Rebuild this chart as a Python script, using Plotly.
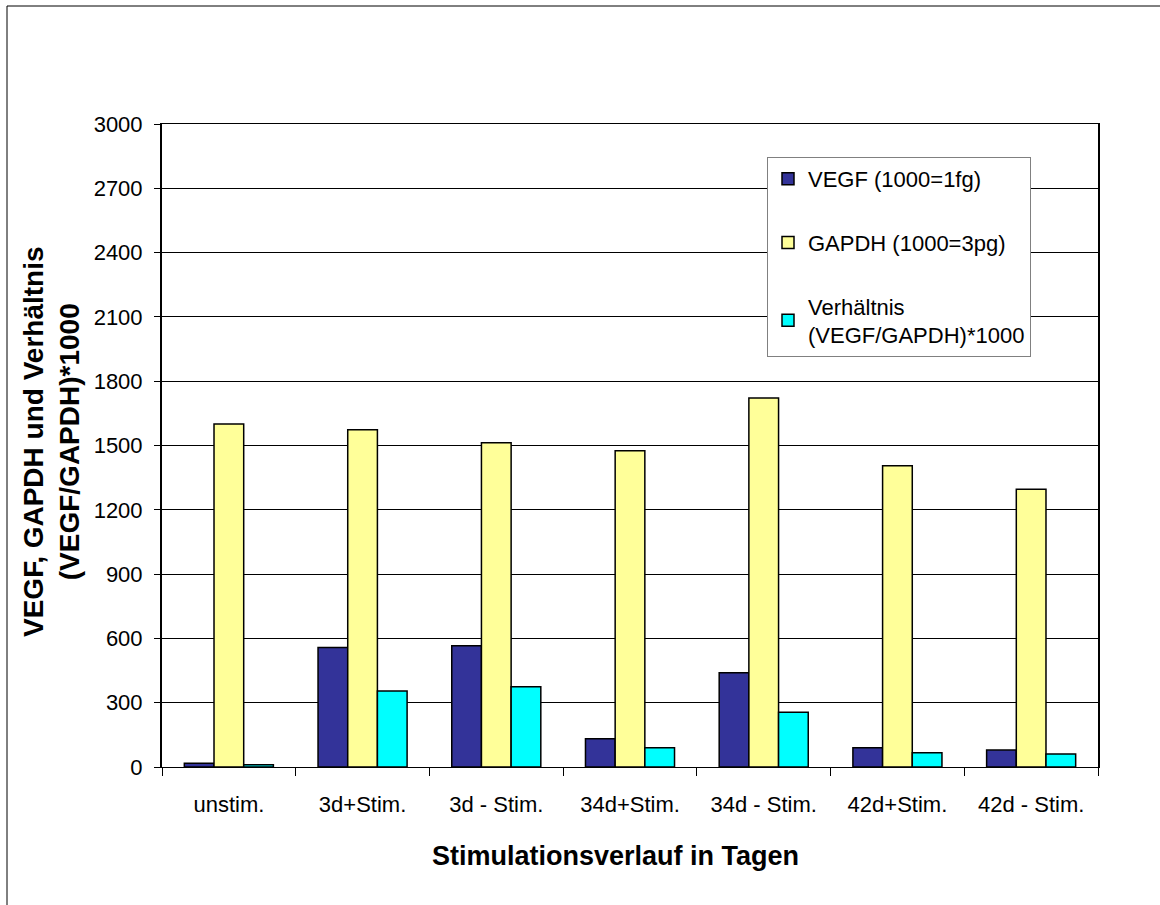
import plotly.graph_objects as go

# Stimulation groups along the x axis
categories = ["unstim.", "3d+Stim.", "3d - Stim.", "34d+Stim.", "34d - Stim.", "42d+Stim.", "42d - Stim."]

# Measured values per group
vegf = [17, 558, 566, 132, 440, 90, 79]
gapdh = [1600, 1574, 1513, 1475, 1722, 1405, 1296]
ratio = [10, 355, 375, 90, 255, 67, 61]

series_names = ["VEGF (1000=1fg)", "GAPDH (1000=3pg)", "Verhältnis<br>(VEGF/GAPDH)*1000"]
series_colors = ["#333399", "#FFFF99", "#00FFFF"]

y_ticks = list(range(0, 3001, 300))

FONT = "Liberation Sans, Arial, sans-serif"

W, H = 1160, 905
L, R, T, B = 162, 62, 124, 138
plot_w = W - L - R
plot_h = H - T - B


def px_x(p):
    return (p - L) / plot_w


def px_y(p):
    return (H - B - p) / plot_h


fig = go.Figure()
for i, (name, vals, col) in enumerate(zip(series_names, [vegf, gapdh, ratio], series_colors)):
    fig.add_trace(go.Bar(
        x=categories, y=vals, name=name,
        marker=dict(color=col, line=dict(color="black", width=1.5)),
        legendgroup=f"g{i}",
    ))

fig.update_layout(
    width=W, height=H,
    margin=dict(l=L, r=R, t=T, b=B, autoexpand=False),
    paper_bgcolor="white", plot_bgcolor="white",
    font=dict(family=FONT, size=22, color="black"),
    barmode="group", bargap=0.334, bargroupgap=0,
    showlegend=True,
    legend=dict(
        x=px_x(767), y=px_y(157), xanchor="left", yanchor="top",
        bgcolor="white", bordercolor="#808080", borderwidth=1,
        font=dict(family=FONT, size=22, color="black"),
        tracegroupgap=32, itemwidth=30,
    ),
    xaxis=dict(
        showline=True, linecolor="black", linewidth=1, mirror=True,
        ticks="outside", tickson="boundaries", ticklen=8, tickcolor="black",
        ticklabelstandoff=18,
        showgrid=False,
    ),
    yaxis=dict(
        range=[0, 3000], tickvals=y_ticks, ticktext=[str(v) for v in y_ticks],
        showline=True, linecolor="black", linewidth=2, mirror=True,
        ticks="outside", ticklen=6, tickcolor="black",
        ticklabelstandoff=7,
        showgrid=True, gridcolor="black", gridwidth=1,
        zeroline=False,
    ),
    shapes=[dict(
        type="rect", xref="paper", yref="paper",
        x0=px_x(7), x1=px_x(1175), y0=px_y(920), y1=px_y(6),
        line=dict(color="black", width=1), fillcolor="rgba(0,0,0,0)", layer="below",
    )],
    annotations=[
        dict(
            text="<b>VEGF, GAPDH und Verhältnis<br>(VEGF/GAPDH)*1000</b>",
            xref="paper", yref="paper", x=px_x(51), y=px_y(442),
            xanchor="center", yanchor="middle", textangle=-90, showarrow=False,
            font=dict(family=FONT, size=28, color="black"),
        ),
        dict(
            text="<b>Stimulationsverlauf in Tagen</b>",
            xref="paper", yref="paper", x=px_x(615), y=px_y(856),
            xanchor="center", yanchor="middle", showarrow=False,
            font=dict(family=FONT, size=27, color="black"),
        ),
    ],
)

fig.write_html("out.html")
